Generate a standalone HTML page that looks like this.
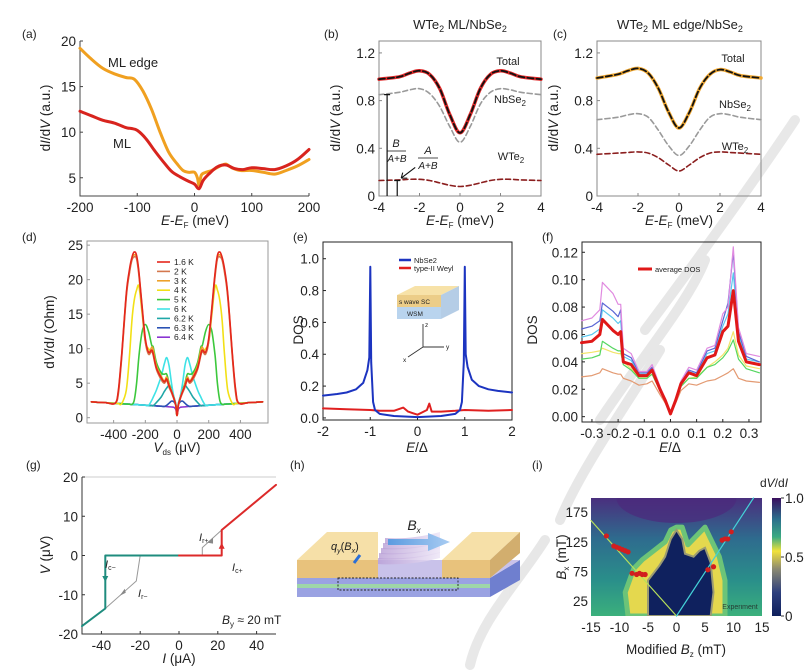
<!DOCTYPE html>
<html><head><meta charset="utf-8">
<style>
html,body{margin:0;padding:0;background:#fff;}
svg{display:block;font-family:"Liberation Sans",Arial,sans-serif;}
text{fill:#222;}
</style></head>
<body>
<svg id="fig" width="809" height="671" viewBox="0 0 809 671">
<defs>
<linearGradient id="cbar" x1="0" y1="0" x2="0" y2="1">
<stop offset="0" stop-color="#3a0f5e"/><stop offset="0.18" stop-color="#2b6f8c"/><stop offset="0.33" stop-color="#3aaa82"/><stop offset="0.45" stop-color="#f2e23a"/><stop offset="0.6" stop-color="#8c8a72"/><stop offset="0.8" stop-color="#2d3f7d"/><stop offset="1" stop-color="#0e1f5c"/>
</linearGradient>
<linearGradient id="hmtop" x1="0" y1="0" x2="0" y2="1">
<stop offset="0" stop-color="#4a2f7e"/><stop offset="0.35" stop-color="#2e6c8e"/><stop offset="0.7" stop-color="#2a8f8a"/><stop offset="1" stop-color="#3bb07c"/>
</linearGradient>
<linearGradient id="arrowg" x1="0" y1="0" x2="1" y2="0"><stop offset="0" stop-color="#5b9be0"/><stop offset="1" stop-color="#a8ccf2"/></linearGradient>
<linearGradient id="wave" x1="0" y1="0" x2="1" y2="0"><stop offset="0" stop-color="#b89ed6"/><stop offset="1" stop-color="#ece4f6"/></linearGradient>
</defs>
</svg>
<script>
// ---------- DATA ----------
// (a)
const aX = [-200,-180,-160,-140,-120,-105,-90,-75,-60,-45,-30,-20,-10,0,5,8,12,20,30,45,55,65,80,100,120,140,160,180,200];
const aEdge = [19.2,18.0,17.0,16.4,16.0,15.8,14.5,12.5,10.0,7.8,6.5,5.8,5.6,5.6,5.0,4.2,5.3,5.6,5.8,6.3,6.5,6.1,5.8,5.8,5.6,5.4,5.8,6.3,7.0];
const aMLX = [-200,-180,-160,-140,-120,-110,-100,-85,-70,-55,-40,-25,-10,0,8,15,25,40,55,70,85,100,120,140,160,180,200];
const aML = [12.3,11.8,11.3,11.0,10.5,10.4,10.2,9.3,8.0,6.8,5.7,5.1,4.6,4.3,3.8,4.7,5.4,6.2,6.4,6.0,5.9,6.1,6.0,5.9,6.3,7.0,8.1];
const aXTicks = [-200,-100,0,100,200];
const aYTicks = [5,10,15,20];
// (b)
const bX = [-4,-3,-2.5,-2,-1.5,-1,-0.5,0,0.5,1,1.5,2,2.5,3,4];
const bTotal = [0.98,1.0,1.03,1.05,1.02,0.9,0.68,0.53,0.68,0.9,1.02,1.05,1.03,1.0,0.98];
const bNb = [0.85,0.87,0.89,0.90,0.86,0.75,0.58,0.45,0.58,0.77,0.87,0.90,0.89,0.87,0.85];
const bW = [0.13,0.135,0.14,0.14,0.13,0.11,0.09,0.08,0.09,0.11,0.13,0.14,0.14,0.135,0.13];
const bcXTicks = [-4,-2,0,2,4];
const bcYTicks = [0,0.4,0.8,1.2];
// (c)
const cX = [-4,-3,-2.5,-2,-1.5,-1,-0.5,0,0.5,1,1.5,2,2.5,3,4];
const cTotal = [0.99,1.02,1.05,1.07,1.03,0.9,0.7,0.57,0.7,0.9,1.02,1.06,1.04,1.01,0.99];
const cNb = [0.64,0.66,0.68,0.69,0.66,0.55,0.42,0.34,0.42,0.55,0.66,0.69,0.68,0.66,0.64];
const cW = [0.35,0.36,0.365,0.37,0.36,0.32,0.26,0.21,0.26,0.32,0.36,0.37,0.365,0.36,0.35];
// (d)
const dX = [-540,-450,-390,-370,-350,-320,-300,-285,-270,-255,-240,-220,-200,-180,-160,-150,-130,-100,-80,-65,-50,-35,-20,-8,0,8,20,35,50,65,80,100,130,150,160,180,200,220,240,255,270,285,300,320,350,370,390,450,540];
const dT16 = [2.3,2.17,2.1,4,9,18,21.5,23.2,24,23.5,21,16,11.5,9.5,9.8,9.2,7.2,5.8,5.2,5.6,4.6,3.8,2.8,1.8,0.3,1.8,2.8,3.8,4.6,5.6,5.2,5.8,7.2,9.2,9.8,9.5,11.5,16,21,23.5,24,23.2,21.5,18,9,4,2.1,2.17,2.3];
const dT2 = [2.3,2.17,2.1,3.5,8.5,17.5,21,22.8,23.3,23,20.5,15.5,11,9.2,9.6,9,7,5.5,5,5.4,4.4,3.6,2.7,1.8,0.3,1.8,2.7,3.6,4.4,5.4,5,5.5,7,9,9.6,9.2,11,15.5,20.5,23,23.3,22.8,21,17.5,8.5,3.5,2.1,2.17,2.3];
const dT3 = [2.3,2.17,2.1,3.8,8.8,17.8,21.2,23,23.6,23.2,20.8,15.8,11.2,9.4,10.2,9.8,7.5,6,5.3,5.9,4.8,3.9,2.8,1.8,0.3,1.8,2.8,3.9,4.8,5.9,5.3,6,7.5,9.8,10.2,9.4,11.2,15.8,20.8,23.2,23.6,23,21.2,17.8,8.8,3.8,2.1,2.17,2.3];
const dT4 = [2.3,2.17,2.08,2.05,2.02,4,9,14,17,18.5,19,15,11,10,9.6,9.4,7.4,6,5.3,5.8,4.7,3.8,2.8,1.8,0.3,1.8,2.8,3.8,4.7,5.8,5.3,6,7.4,9.4,9.6,10,11,15,19,18.5,17,14,9,4,2.02,2.05,2.08,2.17,2.3];
const dT5 = [2.3,2.17,2.08,2.05,2.02,1.98,1.95,1.93,2.5,5,9,12.5,13.5,12.5,10.5,10.2,8,6.5,6.3,6.3,5,3.8,2.8,1.8,0.3,1.8,2.8,3.8,5,6.3,6.3,6.5,8,10.2,10.5,12.5,13.5,12.5,9,5,2.5,1.93,1.95,1.98,2.02,2.05,2.08,2.17,2.3];
const dT6 = [2.3,2.17,2.08,2.05,2.02,1.98,1.95,1.93,1.91,1.89,1.87,1.84,1.81,1.78,2.5,3,4,6,7.8,8.7,7.5,5,3,2,0.5,2,3,5,7.5,8.7,7.8,6,4,3,2.5,1.78,1.81,1.84,1.87,1.89,1.91,1.93,1.95,1.98,2.02,2.05,2.08,2.17,2.3];
const dT62 = [2.3,2.17,2.08,2.05,2.02,1.98,1.95,1.93,1.91,1.89,1.87,1.84,1.81,1.78,1.75,1.74,2.2,3,3.8,4.3,4.7,4.2,3,2,0.5,2,3,4.2,4.7,4.3,3.8,3,2.2,1.74,1.75,1.78,1.81,1.84,1.87,1.89,1.91,1.93,1.95,1.98,2.02,2.05,2.08,2.17,2.3];
const dT63 = [2.3,2.17,2.08,2.05,2.02,1.98,1.95,1.93,1.91,1.89,1.87,1.84,1.81,1.78,1.75,1.74,1.71,1.66,1.63,1.8,2.1,2.4,2.3,1.8,0.5,1.8,2.3,2.4,2.1,1.8,1.63,1.66,1.71,1.74,1.75,1.78,1.81,1.84,1.87,1.89,1.91,1.93,1.95,1.98,2.02,2.05,2.08,2.17,2.3];
const dT64 = [2.3,2.17,2.08,2.05,2.02,1.98,1.95,1.93,1.91,1.89,1.87,1.84,1.81,1.78,1.75,1.74,1.71,1.66,1.63,1.61,1.58,1.55,1.5,1.2,0.3,1.2,1.5,1.55,1.58,1.61,1.63,1.66,1.71,1.74,1.75,1.78,1.81,1.84,1.87,1.89,1.91,1.93,1.95,1.98,2.02,2.05,2.08,2.17,2.3];
const dLabels = ['1.6 K','2 K','3 K','4 K','5 K','6 K','6.2 K','6.3 K','6.4 K'];
const dXTicks = [-400,-200,0,200,400];
const dYTicks = [0,5,10,15,20,25];
// (e)
const eX = [-2,-1.7,-1.5,-1.3,-1.15,-1.06,-1.02,-1.0,-0.98,-0.94,-0.9,-0.8,-0.5,0,0.5,0.8,0.9,0.94,0.98,1.0,1.02,1.06,1.15,1.3,1.5,1.7,2];
const eNb = [0.14,0.15,0.16,0.18,0.22,0.3,0.38,0.95,0.35,0.1,0.05,0.025,0.012,0.005,0.012,0.025,0.05,0.1,0.35,0.95,0.4,0.32,0.24,0.2,0.18,0.17,0.16];
const eRX = [-2,-1.5,-1,-0.8,-0.5,-0.3,-0.2,-0.1,0,0.1,0.2,0.25,0.3,0.5,0.8,1,1.5,2];
const eR = [0.06,0.055,0.05,0.045,0.045,0.065,0.04,0.03,0.02,0.035,0.05,0.09,0.04,0.04,0.045,0.05,0.045,0.05];
const eXTicks = [-2,-1,0,1,2];
const eYTicks = [0,0.2,0.4,0.6,0.8,1.0];
// (f)
const fX = [-0.34,-0.3,-0.27,-0.26,-0.22,-0.2,-0.19,-0.18,-0.15,-0.12,-0.09,-0.07,-0.04,-0.02,0,0.02,0.04,0.07,0.1,0.14,0.17,0.2,0.22,0.24,0.26,0.29,0.34];
const fAvg = [.054,.055,.060,.071,.063,.060,.062,.040,.038,.030,.030,.034,.020,.012,.002,.012,.024,.032,.030,.043,.045,.062,.066,.092,.055,.040,.038];
const fPink = [.070,.072,.078,.098,.090,.082,.082,.050,.046,.033,.033,.038,.022,.013,.003,.013,.026,.036,.034,.050,.052,.075,.080,.124,.065,.046,.044];
const fBlue = [.064,.066,.070,.083,.077,.073,.078,.046,.043,.032,.032,.036,.021,.012,.003,.012,.025,.034,.032,.048,.050,.070,.083,.120,.062,.044,.040];
const fCyan = [.058,.060,.064,.078,.072,.068,.070,.044,.041,.031,.031,.035,.020,.012,.003,.012,.024,.033,.031,.046,.048,.066,.075,.105,.060,.042,.040];
const fGreen = [.042,.043,.045,.055,.050,.048,.048,.038,.034,.028,.028,.031,.019,.011,.002,.011,.022,.028,.028,.036,.038,.043,.048,.056,.042,.035,.032];
const fYellow = [.046,.047,.048,.050,.047,.046,.046,.040,.035,.029,.029,.031,.019,.011,.002,.011,.022,.028,.029,.036,.040,.045,.050,.062,.045,.037,.035];
const fOrange = [.029,.030,.032,.035,.032,.031,.031,.028,.026,.023,.024,.026,.016,.010,.002,.010,.019,.024,.023,.026,.027,.030,.032,.035,.028,.026,.025];
const fXTicks = [-0.3,-0.2,-0.1,0,0.1,0.2,0.3];
const fXLabels = ['-0.3','-0.2','-0.1','0.0','0.1','0.2','0.3'];
const fYTicks = [0,0.02,0.04,0.06,0.08,0.10,0.12];
const fYLabels = ['0.00','0.02','0.04','0.06','0.08','0.10','0.12'];
// (g)
const gTealX = [-50,-38,-38,0];
const gTealY = [-18,-13.5,0,0];
const gRedX = [0,22,22,50];
const gRedY = [0,0,6.5,18];
const gGrayNX = [-38,-22,-20];
const gGrayNY = [-13.5,-6.5,0];
const gGrayPX = [22,12,12];
const gGrayPY = [6.5,2,0];
const gXTicks = [-40,-20,0,20,40];
const gYTicks = [-20,-10,0,10,20];
// (i)
const iPtBz = [-12.3,-11,-10.5,-10,-9.5,-9,-8.5,-7.8,-7,-6.5,-6,-5.5,5.5,6.5,8,8.5,9,9.6];
const iPtBx = [135,118,116,114,112,110,108,72,70,72,70,70,78,83,128,130,130,142];
const iYellowBz = [-8.5,-9,-7.5,-6,-4,-2,-1,0,1,2,3,4,5,6,7.5,8.5,8.5];
const iYellowBx = [0,40,80,95,110,125,145,150,150,120,130,140,150,130,100,60,0];
const iNavyBz = [-5,-5,-3,-2,-1,0,1,1.5,3,4,5,6,6.5,6];
const iNavyBx = [0,60,85,100,130,145,130,105,100,110,115,90,40,0];
const iLineL = [0,-15]; const iLineLy = [0,161];
const iLineR = [0,13.5]; const iLineRy = [0,199];
const iXTicks = [-15,-10,-5,0,5,10,15];
const iYTicks = [25,75,125,175];
const iCbTicks = [0,0.5,1.0];
const iCbLabels = ['0','0.5','1.0'];

// ---------- HELPERS ----------
const NS = 'http://www.w3.org/2000/svg';
const svg = document.getElementById('fig');
const TF = 13.5;
function mk(tag, attrs, parent){
  const e = document.createElementNS(NS, tag);
  for (const k in attrs) e.setAttribute(k, attrs[k]);
  (parent || svg).appendChild(e);
  return e;
}
function lin(d0,d1,r0,r1){ return v => r0 + (v-d0)/(d1-d0)*(r1-r0); }
function smoothPath(pts){
  let d = 'M' + pts[0][0].toFixed(1) + ',' + pts[0][1].toFixed(1);
  for (let i=0;i<pts.length-1;i++){
    const p0 = pts[i-1]||pts[i], p1=pts[i], p2=pts[i+1], p3=pts[i+2]||p2;
    const c1 = [p1[0]+(p2[0]-p0[0])/6, p1[1]+(p2[1]-p0[1])/6];
    const c2 = [p2[0]-(p3[0]-p1[0])/6, p2[1]-(p3[1]-p1[1])/6];
    d += 'C'+c1[0].toFixed(1)+','+c1[1].toFixed(1)+' '+c2[0].toFixed(1)+','+c2[1].toFixed(1)+' '+p2[0].toFixed(1)+','+p2[1].toFixed(1);
  }
  return d;
}
function curve(xs, ys, sx, sy, style, smooth){
  const pts = xs.map((x,i)=>[sx(x), sy(ys[i])]);
  const d = smooth===false ? 'M'+pts.map(p=>p[0].toFixed(1)+','+p[1].toFixed(1)).join('L') : smoothPath(pts);
  const a = Object.assign({d:d, fill:'none', 'stroke-linejoin':'round', 'stroke-linecap':'round'}, style);
  return mk('path', a);
}
function txt(x,y,s,size,anchor,extra){
  const t = mk('text', Object.assign({x:x,y:y,'font-size':size||12,'text-anchor':anchor||'start'}, extra||{}));
  t.innerHTML = s;
  return t;
}
function axes(name, L,T,R,B, sx, sy, xt, yt, xl, yl, full, frameColor){
  const fc = frameColor || '#555';
  if (full){
    const f = mk('rect',{x:L,y:T,width:R-L,height:B-T,fill:'none',stroke:fc,'stroke-width':1});
    
    
  } else {
    const f = mk('path',{d:`M${L},${T}L${L},${B}L${R},${B}`,fill:'none',stroke:fc,'stroke-width':1});
    
    
  }
  xt.forEach((v,i)=>{
    const x = sx(v);
    const tk = mk('line',{x1:x,y1:B,x2:x,y2:B-3,stroke:fc});
    
    
    const lb = txt(x, B+16, xl ? xl[i] : String(v), TF, 'middle');
    
    
  });
  yt.forEach((v,i)=>{
    const y = sy(v);
    const tk = mk('line',{x1:L,y1:y,x2:L+3,y2:y,stroke:fc});
    
    
    const lb = txt(L-4, y+5, yl ? yl[i] : String(v), TF, 'end');
    
    
  });
}
function label(x,y,s,name,size,anchor,extra){
  const t = txt(x,y,s,size,anchor,extra);
  
  
  return t;
}
function ytitle(x,y,s,name){
  const t = txt(0,0,s,13.5,'middle',{transform:`translate(${x},${y}) rotate(-90)`});
  
  
}

// ---------- watermark (behind) ----------
(function(){
  const w = mk('g',{fill:'none',stroke:'#d8d8d8','stroke-width':10,opacity:0.6,'stroke-linecap':'round'});
  
  
  mk('path',{d:'M795,120 C765,165 705,250 645,330'},w);
  mk('path',{d:'M705,260 C690,300 640,360 600,420'},w);
  mk('path',{d:'M660,350 C630,400 580,470 560,520'},w);
  mk('path',{d:'M545,540 C520,580 480,620 470,665'},w);
})();

// ---------- PANEL LABELS ----------
[['(a)',22,38],['(b)',324,38],['(c)',553,38],['(d)',22,241],['(e)',293,241],['(f)',542,241],['(g)',26,469],['(h)',290,469],['(i)',532,469]].forEach(p=>{
  label(p[1],p[2],p[0],'panel-label',12);
});

// ---------- (a) ----------
(function(){
  const L=80,T=41,R=309,B=196;
  const sx=lin(-200,200,L,R), sy=lin(3,20,B,T);
  axes('panel-a',L,T,R,B,sx,sy,aXTicks,aYTicks,null,null,false,'#444');
  const e = curve(aX,aEdge,sx,sy,{stroke:'#f0a020','stroke-width':3});
  
  
  const m = curve(aMLX,aML,sx,sy,{stroke:'#d8241e','stroke-width':3});
  
  
  label(108,67,'ML edge','ml-edge-label',13);
  label(113,148,'ML','ml-label',13);
  ytitle(50,118,'d<tspan font-style="italic">I</tspan>/d<tspan font-style="italic">V</tspan> (a.u.)','panel-a-y-title');
  label(195,225,'<tspan font-style="italic">E</tspan>-<tspan font-style="italic">E</tspan><tspan font-size="8" dy="3">F</tspan><tspan dy="-3"> (meV)</tspan>','panel-a-x-title',13.5,'middle');
})();

// ---------- (b) ----------
(function(){
  const L=379,T=41,R=541,B=196;
  const sx=lin(-4,4,L,R), sy=lin(0,1.3,B,T);
  axes('panel-b',L,T,R,B,sx,sy,bcXTicks,bcYTicks,null,['0','0.4','0.8','1.2'],true,'#888');
  const w = curve(bX,bW,sx,sy,{stroke:'#8b1e1e','stroke-width':1.6,'stroke-dasharray':'5,3'});
  
  
  const n = curve(bX,bNb,sx,sy,{stroke:'#9a9a9a','stroke-width':1.6,'stroke-dasharray':'5,3'});
  
  
  const t1 = curve(bX,bTotal,sx,sy,{stroke:'#e02a2a','stroke-width':3.5});
  
  
  const t2 = curve(bX,bTotal,sx,sy,{stroke:'#111','stroke-width':1.8,'stroke-dasharray':'6,3'});
  
  
  const x1=sx(-3.6), x2=sx(-3.1);
  const v1 = mk('path',{d:`M${x1-3},${sy(0.85)}L${x1+3},${sy(0.85)}M${x1},${sy(0.85)}L${x1},${B}`,stroke:'#111','stroke-width':1.2,fill:'none'});
  
  
  const v2 = mk('path',{d:`M${x2-3},${sy(0.13)}L${x2+3},${sy(0.13)}M${x2},${sy(0.13)}L${x2},${B}`,stroke:'#111','stroke-width':1.2,fill:'none'});
  
  
  const ar = mk('path',{d:`M${x2+18},${sy(0.24)}L${x2+4},${sy(0.15)}M${x2+4},${sy(0.15)}l6,0M${x2+4},${sy(0.15)}l1.5,-5.5`,stroke:'#111','stroke-width':1.1,fill:'none'});
  
  
  label(396,147,'<tspan font-style="italic">B</tspan>','frac-b-num',11,'middle');
  mk('line',{x1:387,y1:151,x2:406,y2:151,stroke:'#111','stroke-width':0.8});
  label(397,162,'<tspan font-style="italic">A</tspan>+<tspan font-style="italic">B</tspan>','frac-b-den',10,'middle');
  label(428,154,'<tspan font-style="italic">A</tspan>','frac-a-num',11,'middle');
  mk('line',{x1:418,y1:158,x2:438,y2:158,stroke:'#111','stroke-width':0.8});
  label(428,169,'<tspan font-style="italic">A</tspan>+<tspan font-style="italic">B</tspan>','frac-a-den',10,'middle');
  label(508,65,'Total','total-label',11,'middle');
  label(510,103,'NbSe<tspan font-size="8" dy="3">2</tspan>','nbse2-label',11,'middle');
  label(511,160,'WTe<tspan font-size="8" dy="3">2</tspan>','wte2-label',11,'middle');
  label(460,29,'WTe<tspan font-size="9" dy="3">2</tspan><tspan dy="-3"> ML/NbSe</tspan><tspan font-size="9" dy="3">2</tspan>','panel-b-title',13,'middle');
  ytitle(340,118,'d<tspan font-style="italic">I</tspan>/d<tspan font-style="italic">V</tspan> (a.u.)','panel-b-y-title');
  label(460,225,'<tspan font-style="italic">E</tspan>-<tspan font-style="italic">E</tspan><tspan font-size="8" dy="3">F</tspan><tspan dy="-3"> (meV)</tspan>','panel-b-x-title',13.5,'middle');
})();

// ---------- (c) ----------
(function(){
  const L=597,T=41,R=761,B=196;
  const sx=lin(-4,4,L,R), sy=lin(0,1.3,B,T);
  axes('panel-c',L,T,R,B,sx,sy,bcXTicks,bcYTicks,null,['0','0.4','0.8','1.2'],true,'#888');
  const w = curve(cX,cW,sx,sy,{stroke:'#8b1e1e','stroke-width':1.6,'stroke-dasharray':'5,3'});
  
  
  const n = curve(cX,cNb,sx,sy,{stroke:'#9a9a9a','stroke-width':1.6,'stroke-dasharray':'5,3'});
  
  
  const t1 = curve(cX,cTotal,sx,sy,{stroke:'#f0a832','stroke-width':3.5});
  
  
  const t2 = curve(cX,cTotal,sx,sy,{stroke:'#111','stroke-width':1.8,'stroke-dasharray':'6,3'});
  
  
  label(733,62,'Total','total-label',11,'middle');
  label(735,108,'NbSe<tspan font-size="8" dy="3">2</tspan>','nbse2-label',11,'middle');
  label(735,150,'WTe<tspan font-size="8" dy="3">2</tspan>','wte2-label',11,'middle');
  label(680,29,'WTe<tspan font-size="9" dy="3">2</tspan><tspan dy="-3"> ML edge/NbSe</tspan><tspan font-size="9" dy="3">2</tspan>','panel-c-title',13,'middle');
  ytitle(558,118,'d<tspan font-style="italic">I</tspan>/d<tspan font-style="italic">V</tspan> (a.u.)','panel-c-y-title');
  label(679,225,'<tspan font-style="italic">E</tspan>-<tspan font-style="italic">E</tspan><tspan font-size="8" dy="3">F</tspan><tspan dy="-3"> (meV)</tspan>','panel-c-x-title',13.5,'middle');
})();

// ---------- (d) ----------
(function(){
  const L=87,T=241,R=268,B=423;
  const sx=lin(-568,574,L,R), sy=lin(-0.77,25.6,B,T);
  axes('panel-d',L,T,R,B,sx,sy,dXTicks,dYTicks,null,null,true,'#999');
  const series=[dT64,dT63,dT62,dT6,dT5,dT4,dT3,dT2,dT16];
  const cols=['#8a35d2','#2a52b4','#1fa7a7','#3fe2e6','#3cc83c','#f2e016','#eda12a','#d4784e','#e5261c'];
  const names=['t-6-4k','t-6-3k','t-6-2k','t-6k','t-5k','t-4k','t-3k','t-2k','t-1-6k'];
  series.forEach((s,i)=>{
    const p = curve(dX,s,sx,sy,{stroke:cols[i],'stroke-width':1.6});
    
    
  });
  const lc=['#e5261c','#d4784e','#eda12a','#f2e016','#3cc83c','#3fe2e6','#1fa7a7','#2a52b4','#8a35d2'];
  dLabels.forEach((s,i)=>{
    const y=262+i*9.4;
    const ln = mk('line',{x1:157,y1:y,x2:170,y2:y,stroke:lc[i],'stroke-width':1.6});
    
    
    label(174,y+3,s,'legend-entry',8.5);
  });
  ytitle(54,332,'d<tspan font-style="italic">V</tspan>/d<tspan font-style="italic">I</tspan> (Ohm)','panel-d-y-title');
  label(177,452,'<tspan font-style="italic">V</tspan><tspan font-size="8" dy="3">ds</tspan><tspan dy="-3"> (μV)</tspan>','panel-d-x-title',13.5,'middle');
})();

// ---------- (e) ----------
(function(){
  const L=323,T=242,R=512,B=420;
  const sx=lin(-2,2,L,R), sy=lin(-0.013,1.105,B,T);
  axes('panel-e',L,T,R,B,sx,sy,eXTicks,eYTicks,null,['0.0','0.2','0.4','0.6','0.8','1.0'],true,'#222');
  const r = curve(eRX,eR,sx,sy,{stroke:'#e02020','stroke-width':2},false);
  
  
  const b = curve(eX,eNb,sx,sy,{stroke:'#1c34c0','stroke-width':2},false);
  
  
  [['#1c34c0','NbSe2',260],['#e02020','type-II Weyl',268]].forEach(l=>{
    const ln = mk('line',{x1:399,y1:l[2],x2:411,y2:l[2],stroke:l[0],'stroke-width':2.5});
    
    
    label(414,l[2]+3,l[1],'legend-entry',7.5);
  });
  const g = mk('g',{});
  
  
  mk('polygon',{points:'397,295 441,295 459,286 415,286',fill:'#f7e2a8'},g);
  mk('polygon',{points:'441,295 459,286 459,310 441,319',fill:'#b5cde6'},g);
  mk('rect',{x:397,y:295,width:44,height:12,fill:'#eccd88'},g);
  mk('rect',{x:397,y:307,width:44,height:12,fill:'#b9d4ee'},g);
  label(399,304,'s wave SC','inset-sc-label',6.5);
  label(407,316,'WSM','inset-wsm-label',6.5);
  mk('path',{d:'M423,347L423,324M423,347L444,347M423,347L408,357',stroke:'#333','stroke-width':0.9,fill:'none'},g);
  label(425,327,'z','axis-z',6.5);
  label(446,349,'y','axis-y',6.5);
  label(403,362,'x','axis-x',6.5);
  ytitle(303,330,'DOS','panel-e-y-title');
  label(417,452,'<tspan font-style="italic">E</tspan>/Δ','panel-e-x-title',13.5,'middle');
})();

// ---------- (f) ----------
(function(){
  const L=582,T=242,R=761,B=422;
  const sx=lin(-0.338,0.346,L,R), sy=lin(-0.0039,0.1275,B,T);
  axes('panel-f',L,T,R,B,sx,sy,fXTicks,fYTicks,fXLabels,fYLabels,true,'#222');
  const ss=[fOrange,fYellow,fGreen,fCyan,fBlue,fPink];
  const cs=['#e39a72','#f2e46a','#55d660','#5ac8ee','#5a66d4','#e08ae0'];
  const nm=['orange','yellow','green','cyan','blue','pink'];
  ss.forEach((s,i)=>{
    const p = curve(fX,s,sx,sy,{stroke:cs[i],'stroke-width':1.2},false);
    
    
  });
  const a = curve(fX,fAvg,sx,sy,{stroke:'#e01818','stroke-width':3},false);
  
  
  const ln = mk('line',{x1:638,y1:269,x2:652,y2:269,stroke:'#e01818','stroke-width':3});
  
  
  label(655,272,'average DOS','legend-entry',7.5);
  ytitle(537,330,'DOS','panel-f-y-title');
  label(670,452,'<tspan font-style="italic">E</tspan>/Δ','panel-f-x-title',13.5,'middle');
})();

// ---------- (g) ----------
(function(){
  const L=82,T=477,R=276,B=634;
  const sx=lin(-50,50,L,R), sy=lin(-20,20,B,T);
  mk('line',{x1:L,y1:T,x2:R,y2:T,stroke:'#ccc'});
  axes('panel-g',L,T,R,B,sx,sy,gXTicks,gYTicks,null,null,false,'#333');
  const gn = curve(gGrayNX,gGrayNY,sx,sy,{stroke:'#999','stroke-width':1},false);
  
  
  const gp = curve(gGrayPX,gGrayPY,sx,sy,{stroke:'#999','stroke-width':1},false);
  
  
  const t = curve(gTealX,gTealY,sx,sy,{stroke:'#1f8c7e','stroke-width':2},false);
  
  
  const r = curve(gRedX,gRedY,sx,sy,{stroke:'#dc2a2a','stroke-width':2},false);
  
  
  const tri=(x,y,up,c,n)=>{ const p=mk('polygon',{points: up?`${x-3},${y+3} ${x+3},${y+3} ${x},${y-3}`:`${x-3},${y-3} ${x+3},${y-3} ${x},${y+3}`,fill:c});   };
  tri(sx(-38),sy(-6),false,'#1f8c7e','ic-minus-arrow');
  tri(sx(22),sy(2.5),true,'#dc2a2a','ic-plus-arrow');
  const a1=mk('polygon',{points:`${sx(-29)-3},${sy(-9.5)+3} ${sx(-29)+3},${sy(-9.5)} ${sx(-29)+2},${sy(-9.5)-4}`,fill:'#888'});
  
  
  const a2=mk('polygon',{points:`${sx(16)-3},${sy(3.8)+2} ${sx(16)+3},${sy(3.8)-3} ${sx(16)+3},${sy(3.8)+3}`,fill:'#888'});
  
  
  label(105,568,'<tspan font-style="italic">I</tspan><tspan font-size="7" dy="2">c−</tspan>','ic-minus-label',11,'start',{fill:'#1f8c7e'});
  label(232,571,'<tspan font-style="italic">I</tspan><tspan font-size="7" dy="2">c+</tspan>','ic-plus-label',11,'start',{fill:'#dc2a2a'});
  label(199,541,'<tspan font-style="italic">I</tspan><tspan font-size="7" dy="2">r+</tspan>','ir-plus-label',11,'start',{fill:'#777'});
  label(138,597,'<tspan font-style="italic">I</tspan><tspan font-size="7" dy="2">r−</tspan>','ir-minus-label',11,'start',{fill:'#777'});
  label(222,624,'<tspan font-style="italic">B</tspan><tspan font-size="8" dy="3">y</tspan><tspan dy="-3"> ≈ 20 mT</tspan>','field-annotation',12);
  ytitle(50,555,'<tspan font-style="italic">V</tspan> (μV)','panel-g-y-title');
  label(179,663,'<tspan font-style="italic">I</tspan> (μA)','panel-g-x-title',13.5,'middle');
})();

// ---------- (h) ----------
(function(){
  const g = mk('g',{});
  
  
  mk('polygon',{points:'490,578 520,560 520,580 490,597',fill:'#6f7fcf'},g);
  mk('polygon',{points:'297,578 490,578 520,560 327,560',fill:'#c9c2ea'},g);
  mk('rect',{x:297,y:578,width:193,height:6,fill:'#9aa2e2'},g);
  mk('rect',{x:297,y:584,width:193,height:4,fill:'#9ed6a8'},g);
  mk('rect',{x:297,y:588,width:193,height:9,fill:'#9aa2e2'},g);
  for (let i=0;i<5;i++){
    mk('path',{d:`M${377+i*2},${558-i*5} Q410,${560-i*5} 440,${552-i*5} L440,${558-i*5} Q410,${566-i*5} ${377+i*2},${564-i*5}Z`,fill:'url(#wave)',opacity:0.8},g);
  }
  mk('polygon',{points:'297,560 327,532 378,532 378,560',fill:'#f6e0a8'},g);
  mk('rect',{x:297,y:560,width:81,height:18,fill:'#e8c27c'},g);
  mk('polygon',{points:'442,560 472,532 520,532 490,560',fill:'#f6e0a8'},g);
  mk('rect',{x:442,y:560,width:48,height:18,fill:'#e8c27c'},g);
  mk('polygon',{points:'490,560 520,532 520,553 490,578',fill:'#d2ae6e'},g);
  mk('rect',{x:338,y:578,width:120,height:12,fill:'none',stroke:'#222','stroke-dasharray':'2,1.5','stroke-width':0.9},g);
  mk('polygon',{points:'388,539 428,539 428,533 450,542 428,551 428,545 388,545',fill:'url(#arrowg)'},g);
  label(414,530,'<tspan font-style="italic">B</tspan><tspan font-size="8" dy="3" font-style="italic">x</tspan>','bx-label',14,'middle',{fill:'#5b9be0'});
  mk('path',{d:'M354,563 L360,555',stroke:'#2b6fd6','stroke-width':3},g);
  label(331,550,'<tspan font-style="italic">q</tspan><tspan font-size="7" dy="3" font-style="italic">y</tspan><tspan dy="-3">(</tspan><tspan font-style="italic">B</tspan><tspan font-size="7" dy="3" font-style="italic">x</tspan><tspan dy="-3">)</tspan>','qy-label',11,'start',{fill:'#6a9ed6'});
})();

// ---------- (i) ----------
(function(){
  const L=591,T=498,R=762,B=616;
  const sx=lin(-15,15,L,R), sy=lin(0,199,B,T);
  const clip = mk('clipPath',{id:'hmclip'});
  mk('rect',{x:L,y:T,width:R-L,height:B-T},clip);
  const g = mk('g',{'clip-path':'url(#hmclip)'});
  
  
  mk('rect',{x:L,y:T,width:R-L,height:B-T,fill:'url(#hmtop)'},g);
  mk('ellipse',{cx:sx(0),cy:T,rx:60,ry:25,fill:'#4b2a7c',opacity:0.7},g);
  const ptsStr=(xs,ys)=>xs.map((v,i)=>sx(v).toFixed(1)+','+sy(ys[i]).toFixed(1)).join(' ');
  const y = mk('polygon',{points:ptsStr(iYellowBz,iYellowBx),fill:'#e4d84e',stroke:'#6cc478','stroke-width':5,'stroke-linejoin':'round'},g);
  
  
  const n = mk('polygon',{points:ptsStr(iNavyBz,iNavyBx),fill:'#0f215e',stroke:'#9a9a72','stroke-width':2},g);
  
  
  const l1 = curve(iLineL,iLineLy,sx,sy,{stroke:'#b7e05a','stroke-width':1.2},false);
  
  
  const l2 = curve(iLineR,iLineRy,sx,sy,{stroke:'#44d2d8','stroke-width':1.2},false);
  
  
  label(740,609,'Experiment','experiment-label',7,'middle',{fill:'#fff',opacity:0.8});
  iPtBz.forEach((v,i)=>{
    const c = mk('circle',{cx:sx(v),cy:sy(iPtBx[i]),r:2.6,fill:'#d21e1e'});
    
    
  });
  iXTicks.forEach(v=>{
    label(sx(v),632,String(v),'panel-i-x-tick-label',TF,'middle');
  });
  iYTicks.forEach(v=>{
    label(L-3,sy(v)+5,String(v),'panel-i-y-tick-label',TF,'end');
  });
  const cb = mk('rect',{x:772,y:T,width:9,height:B-T,fill:'url(#cbar)'});
  
  
  const cs=lin(0,1,B,T);
  iCbTicks.forEach((v,i)=>{
    mk('line',{x1:781,y1:cs(v),x2:784,y2:cs(v),stroke:'#333'});
    label(785,cs(v)+5,iCbLabels[i],'colorbar-tick-label',TF);
  });
  label(774,487,'d<tspan font-style="italic">V</tspan>/d<tspan font-style="italic">I</tspan>','colorbar-title',12,'middle');
  ytitle(566,557,'<tspan font-style="italic">B</tspan><tspan font-size="8" dy="3">x</tspan><tspan dy="-3"> (mT)</tspan>','panel-i-y-title');
  label(676,654,'Modified <tspan font-style="italic">B</tspan><tspan font-size="8" dy="3">z</tspan><tspan dy="-3"> (mT)</tspan>','panel-i-x-title',13.5,'middle');
})();
</script>
</body></html>
